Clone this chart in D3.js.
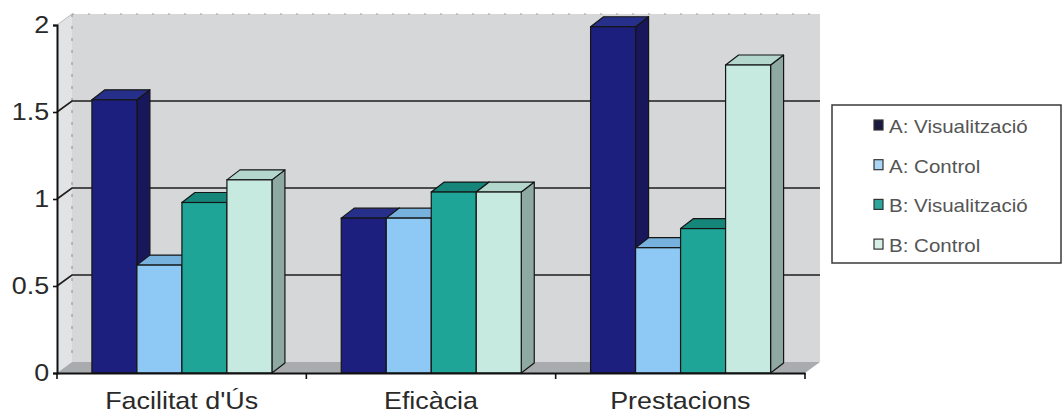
<!DOCTYPE html>
<html>
<head>
<meta charset="utf-8">
<script src="https://cdn.jsdelivr.net/npm/d3@7/dist/d3.min.js"></script>
<style>
  html, body { margin: 0; padding: 0; background: #fff; }
  svg { display: block; }
</style>
</head>
<body>
<script>
// Categories, series and values for the 3D column chart
const categories = ["Facilitat d'Ús", "Eficàcia", "Prestacions"];
const seriesNames = ["A: Visualització", "A: Control", "B: Visualització", "B: Control"];
const aVisualitzacio = [1.57, 0.89, 1.99];
const aControl = [0.62, 0.89, 0.72];
const bVisualitzacio = [0.98, 1.04, 0.83];
const bControl = [1.11, 1.04, 1.77];
const yTicks = [0, 0.5, 1, 1.5, 2];

// Face colours of each series: front, top, side
const palette = [
  { front: "#1c1f7d", top: "#26308a", side: "#19175c", legend: "#1a1a40" },
  { front: "#8dc9f4", top: "#76b2dd", side: "#5f90b5", legend: "#a9d6f4" },
  { front: "#1fa597", top: "#16867a", side: "#12695f", legend: "#2ca59a" },
  { front: "#c6eadf", top: "#b3d7cc", side: "#8ea9a1", legend: "#d8efe6" }
];

const seriesValues = [aVisualitzacio, aControl, bVisualitzacio, bControl];
const rows = [];
categories.forEach((c, ci) => {
  seriesNames.forEach((s, si) => rows.push({ category: c, series: s, si, value: seriesValues[si][ci] }));
});

const W = 1063, H = 416;
const svg = d3.select("body").append("svg").attr("width", W).attr("height", H);

// Front plane scales
const x = d3.scaleBand().domain(categories).range([57, 805]);
const bw = x.bandwidth();
const xs = d3.scaleBand().domain(seriesNames).range([bw * 0.14, bw * 0.862]);
const y = d3.scaleLinear().domain([0, 2]).range([373, 25]);

// Depth offsets: walls and bars
const wdx = 15, wdy = -11;
const bdx = 13, bdy = -10;

const x0 = x.range()[0], x1 = x.range()[1];
const yTop = y(2), yBase = y(0);

// Left side wall
svg.append("polygon")
  .attr("points", [[x0, yBase], [x0, yTop], [x0 + wdx, yTop + wdy], [x0 + wdx, yBase + wdy]].join(" "))
  .attr("fill", "#e1e3e4");

// Back wall
svg.append("rect")
  .attr("x", x0 + wdx).attr("y", yTop + wdy)
  .attr("width", x1 - x0).attr("height", yBase - yTop)
  .attr("fill", "#d5d7d9");

// Floor
svg.append("polygon")
  .attr("points", [[x0, yBase], [x1, yBase], [x1 + wdx, yBase + wdy], [x0 + wdx, yBase + wdy]].join(" "))
  .attr("fill", "#a9acaf");

// Wall edges
svg.append("line")
  .attr("x1", x0 + wdx).attr("x2", x0 + wdx)
  .attr("y1", yTop + wdy).attr("y2", yBase + wdy)
  .attr("stroke", "#8a8c8e").attr("stroke-width", 1).attr("stroke-dasharray", "3,9");
svg.append("line")
  .attr("x1", x0 + wdx).attr("x2", x1 + wdx)
  .attr("y1", yTop + wdy).attr("y2", yTop + wdy)
  .attr("stroke", "#9a9c9e").attr("stroke-width", 1).attr("stroke-dasharray", "2,14");
svg.append("line")
  .attr("x1", x0).attr("x2", x0 + wdx)
  .attr("y1", yTop).attr("y2", yTop + wdy)
  .attr("stroke", "#b8babc").attr("stroke-width", 1);

// Gridlines on the side wall and back wall
const grid = svg.append("g").attr("class", "grid");
yTicks.filter(d => d > 0 && d < 2).forEach(d => {
  grid.append("path")
    .attr("d", `M${x0},${y(d)} L${x0 + wdx},${y(d) + wdy} L${x1 + wdx},${y(d) + wdy}`)
    .attr("fill", "none").attr("stroke", "#1e1e1e").attr("stroke-width", 1.6);
});

// 3D bars, painted left to right
const bars = svg.append("g").attr("class", "bars");
rows.forEach(r => {
  const c = palette[r.si];
  const bx = x(r.category) + xs(r.series);
  const w = xs.bandwidth();
  const yt = y(r.value), yb = y(0);
  const g = bars.append("g");
  // side face
  g.append("polygon")
    .attr("points", [[bx + w, yt], [bx + w + bdx, yt + bdy], [bx + w + bdx, yb + bdy], [bx + w, yb]].join(" "))
    .attr("fill", c.side).attr("stroke", "#151515").attr("stroke-width", 1.2).attr("stroke-linejoin", "round");
  // top face
  g.append("polygon")
    .attr("points", [[bx, yt], [bx + bdx, yt + bdy], [bx + w + bdx, yt + bdy], [bx + w, yt]].join(" "))
    .attr("fill", c.top).attr("stroke", "#151515").attr("stroke-width", 1.2).attr("stroke-linejoin", "round");
  // front face
  g.append("rect")
    .attr("x", bx).attr("y", yt).attr("width", w).attr("height", yb - yt)
    .attr("fill", c.front).attr("stroke", "#151515").attr("stroke-width", 1.2);
});

// Value axis
const yAxis = svg.append("g")
  .attr("transform", `translate(${x0},0)`)
  .call(d3.axisLeft(y).tickValues(yTicks).tickFormat(d3.format("")).tickSize(4).tickPadding(3));
yAxis.select(".domain").attr("stroke", "#111").attr("stroke-width", 2);
yAxis.selectAll(".tick line").attr("stroke", "#111").attr("stroke-width", 1.6);
yAxis.selectAll(".tick text")
  .attr("font-family", "'Liberation Sans', Arial, sans-serif")
  .attr("font-size", 24).attr("fill", "#2a2a2a")
  .attr("transform", "scale(1.12,1)");

// Category axis
const xAxis = svg.append("g")
  .attr("transform", `translate(0,${yBase})`)
  .call(d3.axisBottom(x).tickSize(0).tickFormat(""));
xAxis.select(".domain").attr("stroke", "#111").attr("stroke-width", 1.8);
const bounds = categories.map(c => x(c)).concat([x1]);
xAxis.selectAll(".bound").data(bounds).enter().append("line")
  .attr("class", "bound")
  .attr("x1", d => d).attr("x2", d => d).attr("y1", 0).attr("y2", 6)
  .attr("stroke", "#111").attr("stroke-width", 1.6);

svg.append("g").selectAll("g").data(categories).enter().append("g")
  .attr("transform", c => `translate(${x(c) + bw / 2},409)`)
  .append("text")
  .attr("text-anchor", "middle")
  .attr("transform", "scale(1.12,1)")
  .attr("font-family", "'Liberation Sans', Arial, sans-serif")
  .attr("font-size", 24).attr("fill", "#2a2a2a")
  .text(c => c);

// Legend
const legend = svg.append("g").attr("transform", "translate(832,105)");
legend.append("rect")
  .attr("x", 0).attr("y", 0).attr("width", 229).attr("height", 158)
  .attr("fill", "#fff").attr("stroke", "#3a3a3a").attr("stroke-width", 1.5);
const items = legend.selectAll(".item").data(seriesNames).enter().append("g")
  .attr("class", "item")
  .attr("transform", (d, i) => `translate(0,${28 + i * 39.7})`);
items.append("rect")
  .attr("x", 42).attr("y", -13).attr("width", 9).attr("height", 10)
  .attr("fill", (d, i) => palette[i].legend)
  .attr("stroke", "#333").attr("stroke-width", 1.2);
items.append("g").attr("transform", "translate(57,0)")
  .append("text")
  .attr("transform", "scale(1.14,1)")
  .attr("font-family", "'Liberation Sans', Arial, sans-serif")
  .attr("font-size", 18).attr("fill", "#555")
  .text(d => d);
</script>
</body>
</html>
